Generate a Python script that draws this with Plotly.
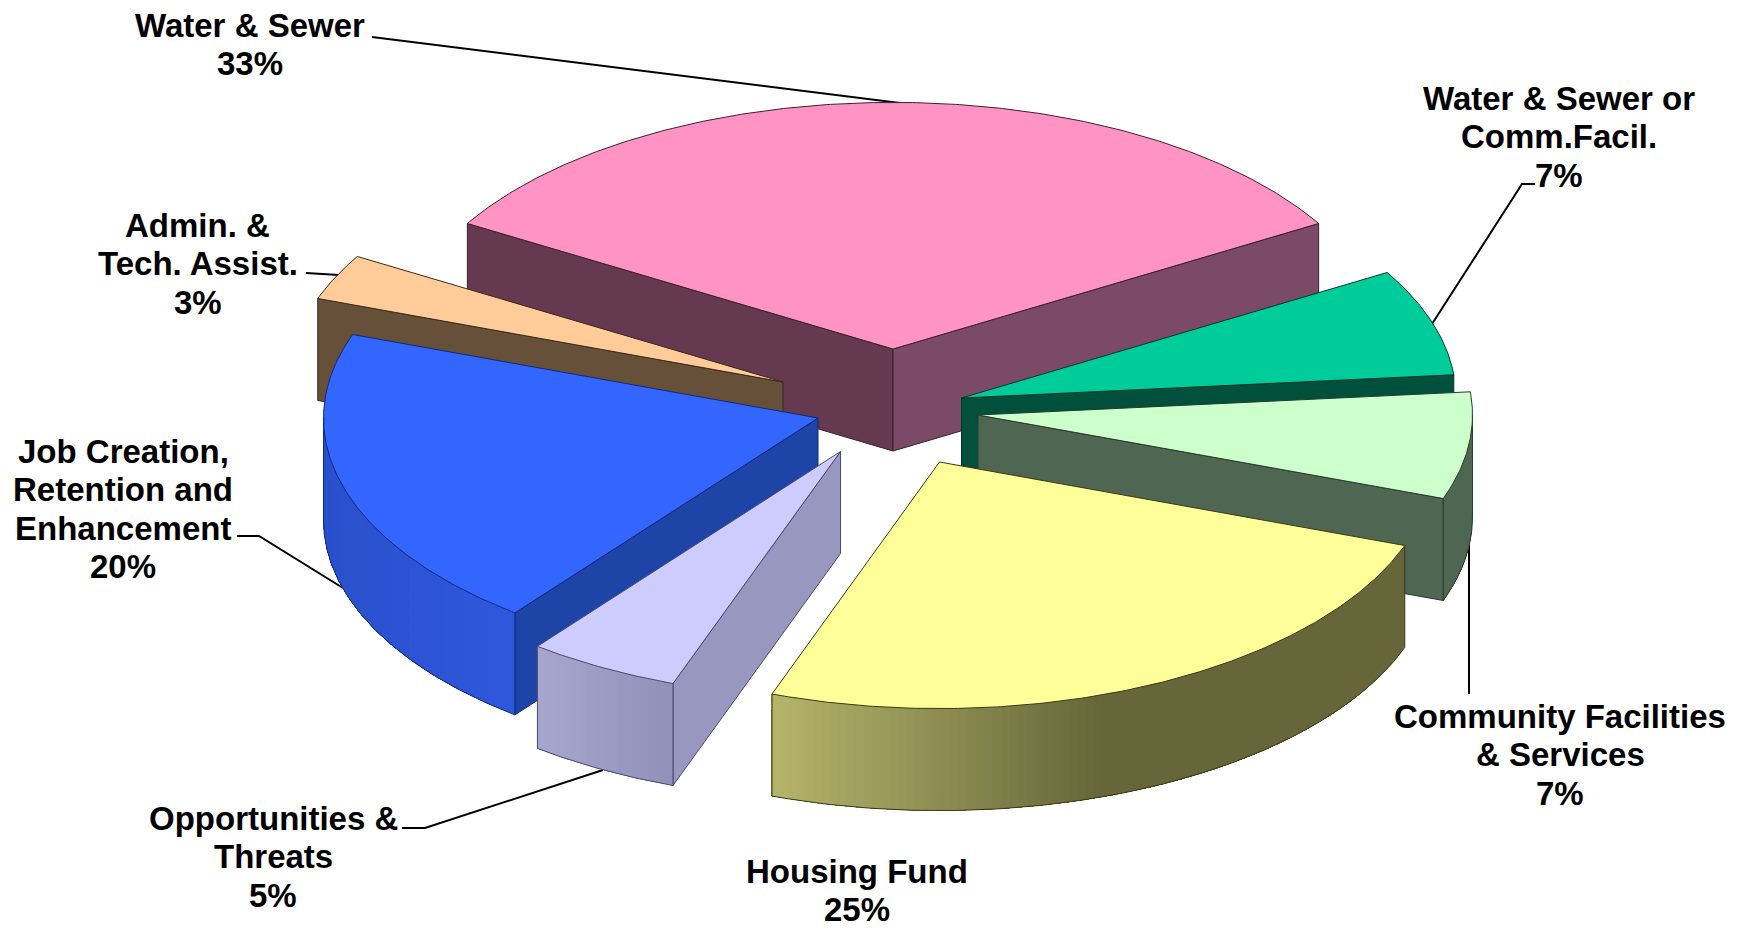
import math
import plotly.graph_objects as go

# Funding shares, clockwise from the pink slice
CATEGORIES = [
    "Water & Sewer",
    "Water & Sewer or\nComm.Facil.",
    "Community Facilities\n& Services",
    "Housing Fund",
    "Opportunities &\nThreats",
    "Job Creation,\nRetention and\nEnhancement",
    "Admin. &\nTech. Assist.",
]
SHARES = [33, 7, 7, 25, 5, 20, 3]

# Pie projection on the 1750x929 canvas
WIDTH, HEIGHT = 1750, 929
CX, CY = 893, 408
RX, RY = 494.5, 246.6
DEPTH = 102
START_ANGLE = -SHARES[0] / 100 * 180  # the largest slice straddles 12 o'clock

# Per-slice styling, same order as CATEGORIES
PULL_X = [0, 68.5, 85, 46.5, -52.5, -75, -110]
PULL_Y = [-59, -10, 7, 54, 43.5, 10, -26]
TOP = ["#FF94C4", "#00CC99", "#CCFFCC", "#FFFF99", "#CCCCFF", "#3366FF", "#FFCC99"]
WALL_START = ["#653A50", "#00503C", "#4F6652", "#66663A", "#9797BF", "#1F44A8", "#66503A"]
WALL_END = ["#7A4A66", "#00503C", "#4F6652", "#66663A", "#9797BF", "#1F44A8", "#66503A"]
RIM_LEFT = ["#7A4A66", "#00503C", "#4F6652", "#B5B56C", "#A6A6CE", "#2A50CC", "#66503A"]
RIM_RIGHT = ["#7A4A66", "#00503C", "#4F6652", "#66663A", "#9090B8", "#2E58DC", "#66503A"]
RIM_RAMP = [1, 1, 1, 0.52, 1, 1, 1]
EDGE = ["#3a1f2e", "#00382A", "#2A3A2C", "#3A3A14", "#4A4A70", "#12287A", "#3A2A18"]
DRAW_ORDER = [0, 1, 2, 6, 5, 4, 3]

# Label placement: centre x, y of first line
LABEL_X = [250, 1559, 1560, 857, 273, 123, 197.5]
LABEL_Y = [25, 98, 716, 871, 818, 451, 225]
LINE_PITCH = 38.5
FONT_SIZE = 33

# Leader lines, drawn underneath the pie
LEADERS = [
    ([372, 900], [37, 103]),
    ([1535, 1522, 1432], [184, 184, 324]),
    ([1469, 1469], [694, 430]),
    ([402, 425, 603], [828, 828, 770]),
    ([237, 259, 343], [536, 536, 588]),
    ([306, 339], [273, 275]),
]


def hex_rgb(c):
    return tuple(int(c[i:i + 2], 16) for i in (1, 3, 5))


def mix(a, b, t):
    ra, rb = hex_rgb(a), hex_rgb(b)
    return "#%02X%02X%02X" % tuple(round(x + (y - x) * t) for x, y in zip(ra, rb))


def point(apex, deg, drop=0):
    r = math.radians(deg)
    return apex[0] + RX * math.sin(r), apex[1] - RY * math.cos(r) + drop


def face(xs, ys, fill, edge, width=1.0):
    return go.Scatter(
        x=xs, y=ys, mode="lines", fill="toself", fillcolor=fill,
        line=dict(color=edge, width=width), hoverinfo="skip", showlegend=False,
    )


def stroke(xs, ys, colour, width=1.0):
    return go.Scatter(x=xs, y=ys, mode="lines", line=dict(color=colour, width=width),
                      hoverinfo="skip", showlegend=False)


def arc(apex, a0, a1, drop=0, step=0.5):
    n = max(2, int(abs(a1 - a0) / step) + 1)
    pts = [point(apex, a0 + (a1 - a0) * i / (n - 1), drop) for i in range(n)]
    return [p[0] for p in pts], [p[1] for p in pts]


fig = go.Figure()

for xs, ys in LEADERS:
    fig.add_trace(stroke(xs, ys, "#000000", 2))

# Slice angle ranges follow from the shares
bounds = [START_ANGLE]
for share in SHARES:
    bounds.append(bounds[-1] + share / 100 * 360)

for i in DRAW_ORDER:
    a0, a1 = bounds[i], bounds[i + 1]
    apex = (CX + PULL_X[i], CY + PULL_Y[i])

    # Radial walls, only where their outward normal faces the viewer
    for deg, normal, colour in ((a0, a0 - 90, WALL_START[i]), (a1, a1 + 90, WALL_END[i])):
        if math.cos(math.radians(normal)) < 0:
            ex, ey = point(apex, deg)
            fig.add_trace(face([apex[0], ex, ex, apex[0], apex[0]],
                               [apex[1], ey, ey + DEPTH, apex[1] + DEPTH, apex[1]],
                               colour, EDGE[i]))

    # Curved outer wall on the front half: overlapping strips, painted
    # from right to left so no seams open between neighbours
    lo, hi = max(a0, 90), min(a1, 270)
    if hi > lo:
        left_x = point(apex, hi)[0]
        right_x = point(apex, lo)[0]
        span = max(right_x - left_x, 1)
        n = max(1, int(hi - lo))
        for k in range(n):
            s0 = lo + (hi - lo) * k / n
            s1 = hi
            xs0, ys0 = arc(apex, s0, s1)
            xs1, ys1 = arc(apex, s1, s0, DEPTH)
            mid_x = point(apex, s0 + (hi - lo) / n / 2)[0]
            t = min(1.0, (mid_x - left_x) / span / RIM_RAMP[i])
            colour = mix(RIM_LEFT[i], RIM_RIGHT[i], t)
            fig.add_trace(face(xs0 + xs1 + xs0[:1], ys0 + ys1 + ys0[:1], colour, colour, 0))
        bx, by = arc(apex, lo, hi, DEPTH)
        fig.add_trace(stroke(bx, by, EDGE[i]))
        for deg in (lo, hi):
            ex, ey = point(apex, deg)
            fig.add_trace(stroke([ex, ex], [ey, ey + DEPTH], EDGE[i]))

    # Top face
    ax, ay = arc(apex, a0, a1)
    fig.add_trace(face([apex[0]] + ax + [apex[0]], [apex[1]] + ay + [apex[1]], TOP[i], EDGE[i]))

# Category labels, one annotation per line so the leading stays exact
annotations = []
for name, share, lx, ly in zip(CATEGORIES, SHARES, LABEL_X, LABEL_Y):
    for j, line in enumerate(name.split("\n") + [f"{share}%"]):
        annotations.append(dict(
            x=lx, y=ly + j * LINE_PITCH, text=line, showarrow=False,
            xref="x", yref="y", xanchor="center", yanchor="middle",
            font=dict(family="Liberation Sans", size=FONT_SIZE, color="#000000", weight=700),
        ))

fig.update_layout(
    width=WIDTH, height=HEIGHT,
    margin=dict(l=0, r=0, t=0, b=0),
    paper_bgcolor="#FFFFFF", plot_bgcolor="#FFFFFF",
    xaxis=dict(range=[0, WIDTH], visible=False, fixedrange=True),
    yaxis=dict(range=[HEIGHT, 0], visible=False, fixedrange=True),
    annotations=annotations,
    showlegend=False,
)

fig.write_html("out.html")
